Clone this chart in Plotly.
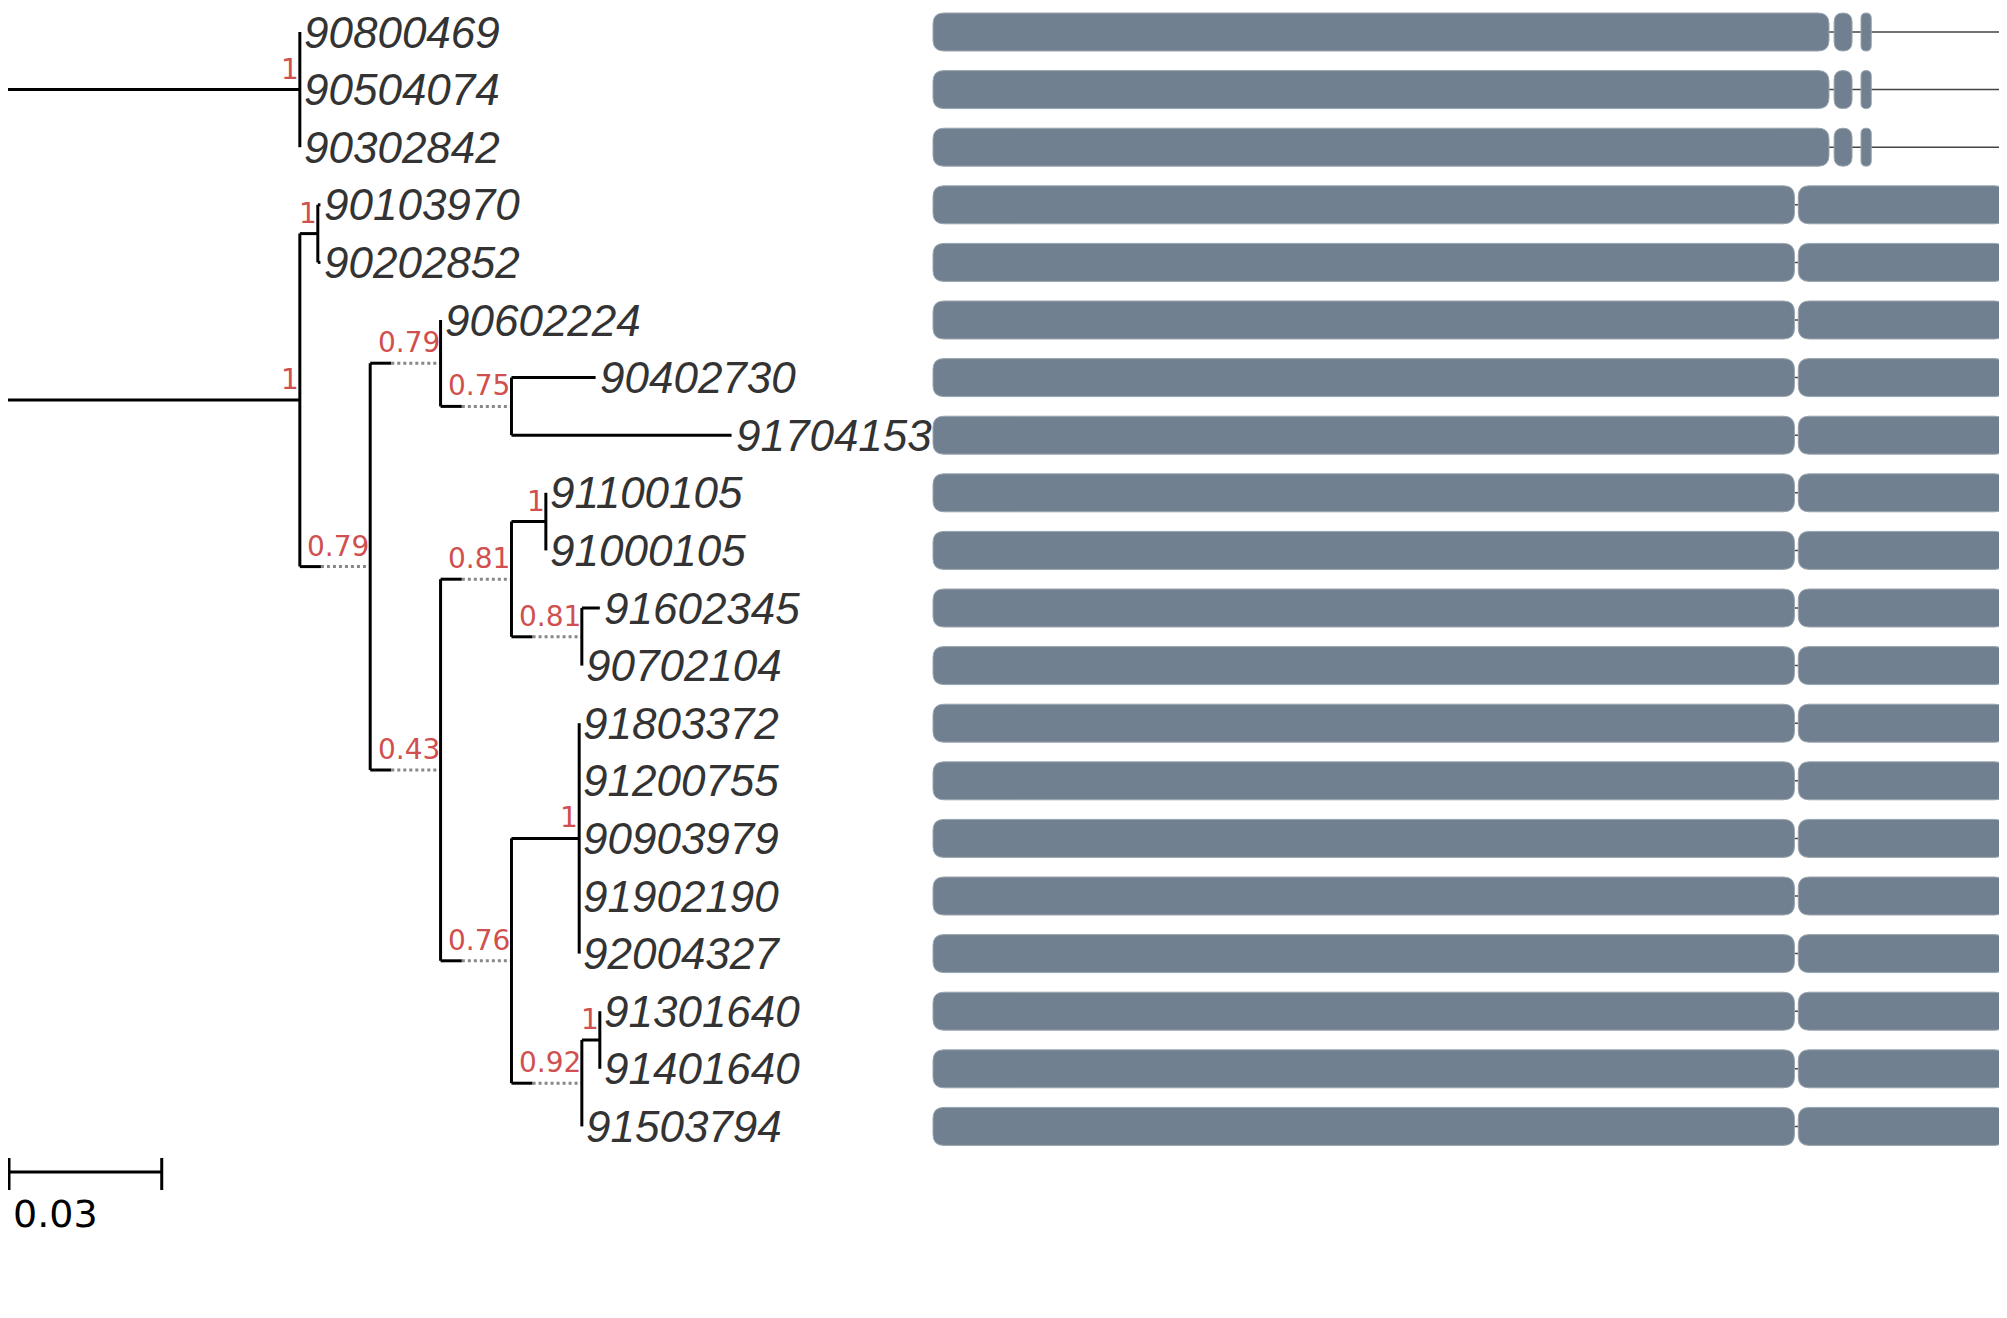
import plotly.graph_objects as go

# tree: node name, parent, depth from root (substitutions/site), support
node_names = ["root", "A", "B", "C", "D", "E", "F", "G", "H", "I", "J", "K", "L", "M", "N"]
node_parent = [None, "root", "root", "B", "B", "D", "D", "E", "F", "F", "H", "H", "I", "I", "M"]
node_depth = [0.0, 0.0561, 0.0561, 0.0595, 0.0694, 0.0827, 0.0827, 0.0961, 0.0961, 0.0961,
              0.1026, 0.1094, 0.1089, 0.1094, 0.1128]
node_support = [None, "1", "1", "1", "0.79", "0.79", "0.43", "0.75", "0.81", "0.76",
                "1", "0.81", "1", "0.92", "1"]

leaf_names = ["90800469", "90504074", "90302842", "90103970", "90202852", "90602224",
              "90402730", "91704153", "91100105", "91000105", "91602345", "90702104",
              "91803372", "91200755", "90903979", "91902190", "92004327", "91301640",
              "91401640", "91503794"]
leaf_parent = ["A", "A", "A", "C", "C", "E", "G", "G", "J", "J", "K", "K",
               "L", "L", "L", "L", "L", "N", "N", "M"]
leaf_depth = [0.0561, 0.0561, 0.0561, 0.0600, 0.0600, 0.0827, 0.1120, 0.1377, 0.1026, 0.1026,
              0.1128, 0.1094, 0.1089, 0.1089, 0.1089, 0.1089, 0.1089, 0.1128, 0.1128, 0.1094]

# gene structure segments (alignment columns) per leaf
seg_top = [(0, 700), (704, 718), (725, 733)]
seg_rest = [(0, 673), (676, 838)]
gene_len = 838
gene_segments = [seg_top] * 3 + [seg_rest] * 17
scale_len = 0.03

# pixel mapping (page adds ~8px body margin)
X0, PX = -5.0, 5291.0
Y0, DY = 24.0, 57.6
GX0, GPX = 925.0, 1.28

def tx(d):
    return X0 + d * PX

ly = [Y0 + DY * i for i in range(len(leaf_names))]
children = {n: [] for n in node_names}
for i, p in enumerate(leaf_parent):
    children[p].append(("leaf", i))
for n, p in zip(node_names, node_parent):
    if p:
        children[p].append(("node", n))

ny, nx = {}, dict(zip(node_names, node_depth))
def get_y(kind, key):
    if kind == "leaf":
        return ly[key]
    if key not in ny:
        ys = [get_y(k, c) for k, c in children[key]]
        ny[key] = (min(ys) + max(ys)) / 2
    return ny[key]
get_y("node", "root")

fig = go.Figure()
shapes, ann = [], []
red = "#d05050"

def seg(x0, y0, x1, y1, color="black", w=3, dash=None):
    shapes.append(dict(type="line", x0=x0, y0=y0, x1=x1, y1=y1,
                       line=dict(color=color, width=w, dash=dash)))

support = dict(zip(node_names, node_support))
for n in node_names:
    x = tx(nx[n]); y = ny[n]
    ys = [get_y(k, c) for k, c in children[n]]
    seg(x, min(ys), x, max(ys))
    for k, c in children[n]:
        cy = get_y(k, c)
        cx = tx(leaf_depth[c]) if k == "leaf" else tx(nx[c])
        if cx - x < 0.5:
            continue
        dotted = k == "node" and support[c] not in ("1",)
        if dotted:
            mid = x + (cx - x) * 0.3
            seg(x, cy, mid, cy)
            seg(mid, cy, cx, cy, color="#888888", w=3, dash="dot")
        else:
            seg(x, cy, cx, cy)
    if support[n]:
        ann.append(dict(x=x + 1, y=y - 2, text=support[n], showarrow=False, xanchor="right",
                        yanchor="bottom", font=dict(family="DejaVu Sans", size=28, color=red)))

for i, name in enumerate(leaf_names):
    ann.append(dict(x=tx(leaf_depth[i]) + 2, y=ly[i], text="<i>" + name + "</i>", showarrow=False,
                    xanchor="left", yanchor="middle",
                    font=dict(family="Liberation Sans", size=44, color="#333333")))

def rrect(x0, x1, yc, h=38, r=11):
    r = min(r, (x1 - x0) / 2)
    y0, y1 = yc - h / 2, yc + h / 2
    return (f"M{x0+r},{y0} L{x1-r},{y0} Q{x1},{y0} {x1},{y0+r} L{x1},{y1-r} Q{x1},{y1} {x1-r},{y1} "
            f"L{x0+r},{y1} Q{x0},{y1} {x0},{y1-r} L{x0},{y0+r} Q{x0},{y0} {x0+r},{y0} Z")

for i, segs in enumerate(gene_segments):
    y = ly[i]
    last = GX0 + gene_len * GPX
    seg(GX0 + segs[0][0] * GPX, y, last, y, color="#444444", w=1.5)
    for a, b in segs:
        shapes.append(dict(type="path", path=rrect(GX0 + a * GPX, GX0 + b * GPX, y),
                           fillcolor="#708090", line=dict(color="#9aa5b0", width=1)))

# scale bar
sy = 1164
sx1 = tx(scale_len)
x_start = X0 + 6
seg(x_start, sy, sx1, sy)
seg(x_start, sy - 14, x_start, sy + 18)
seg(sx1, sy - 14, sx1, sy + 18)
ann.append(dict(x=x_start + 2, y=sy + 42, text=str(scale_len), showarrow=False, xanchor="left",
                yanchor="middle", font=dict(family="DejaVu Sans", size=38, color="black")))

fig.add_trace(go.Scatter(x=[0, 2007], y=[0, 1318], mode="markers", marker=dict(opacity=0),
                         hoverinfo="skip", showlegend=False))
fig.update_layout(
    width=2007, height=1318, margin=dict(l=0, r=0, t=0, b=0),
    plot_bgcolor="white", paper_bgcolor="white",
    xaxis=dict(range=[0, 2007], visible=False, fixedrange=True),
    yaxis=dict(range=[1318, 0], visible=False, fixedrange=True),
    shapes=shapes, annotations=ann,
)
fig.write_html("out.html")
